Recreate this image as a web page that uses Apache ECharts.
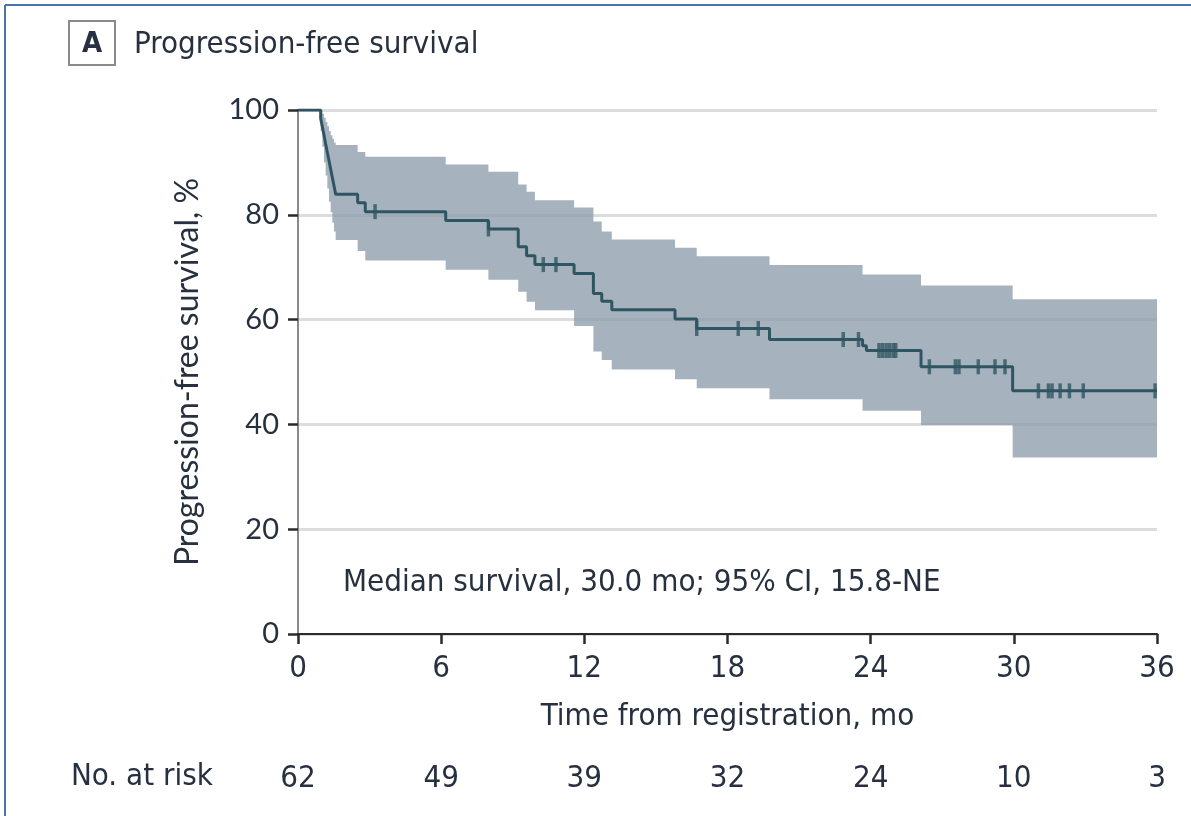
<!DOCTYPE html>
<html>
<head>
<meta charset="utf-8">
<script src="https://cdn.jsdelivr.net/npm/echarts@6/dist/echarts.min.js"></script>
<style>
  html, body { margin: 0; padding: 0; background: #ffffff; }
  #chart { width: 1191px; height: 816px; }
</style>
</head>
<body>
<div id="chart"></div>
<script>
// Kaplan-Meier estimate of progression-free survival (step points, months / %)
const kmTime = [0, 0.95, 1.02, 1.09, 1.16, 1.23, 1.30, 1.37, 1.44, 1.51, 1.58, 2.50, 2.82, 6.19, 7.98, 9.23, 9.58, 9.93, 11.57, 12.38, 12.73, 13.15, 15.80, 16.71, 19.76, 23.66, 23.82, 26.11, 29.95, 36.0];
const kmSurv = [100, 98.4, 96.8, 95.2, 93.5, 91.9, 90.3, 88.7, 87.1, 85.5, 83.9, 82.3, 80.6, 78.9, 77.3, 73.9, 72.2, 70.5, 68.8, 65.0, 63.5, 61.9, 60.1, 58.3, 56.2, 55.0, 54.1, 51.0, 46.4, 46.4];

// 95% confidence band at the same step times
const ciLower = [100, 96.0, 93.0, 90.0, 87.5, 85.0, 82.5, 80.5, 78.5, 76.8, 75.2, 73.1, 71.3, 69.5, 67.6, 65.3, 63.4, 61.8, 58.8, 53.9, 52.3, 50.5, 48.6, 46.9, 44.8, 42.6, 42.6, 39.9, 33.7, 33.7];
const ciUpper = [100, 100, 99.3, 98.5, 97.7, 96.9, 96.0, 95.2, 94.5, 93.8, 93.3, 92.0, 91.1, 89.6, 88.2, 85.8, 84.4, 82.8, 81.4, 78.7, 76.8, 75.3, 73.7, 72.1, 70.4, 68.6, 68.6, 66.5, 63.9, 63.9];

// Censored observations (months)
const censorTimes = [3.23, 7.98, 10.28, 10.81, 16.71, 18.45, 19.29, 22.85, 23.49, 24.35, 24.5, 24.65, 24.8, 24.95, 25.05, 26.46, 27.55, 27.7, 28.51, 29.21, 29.63, 31.03, 31.45, 31.6, 31.94, 32.33, 32.91, 35.92];

// Axis ticks and number at risk
const xTicks = [0, 6, 12, 18, 24, 30, 36];
const yTicks = [0, 20, 40, 60, 80, 100];
const atRisk = [62, 49, 39, 32, 24, 10, 3];

const NARROW = "'Liberation Sans Narrow', 'DejaVu Sans Condensed', 'Roboto Condensed', Roboto, sans-serif";
const WIDE = "Lato, 'Open Sans', sans-serif";
const TEXT = '#27303f';
const LINE = '#2f5562';

function survivalAt(t) {
  let i = 0;
  while (i + 1 < kmTime.length && kmTime[i + 1] <= t) i++;
  return kmSurv[i];
}

const kmData = kmTime.map((t, i) => [t, kmSurv[i]]);
const bandData = kmTime.map((t, i) => [t, ciLower[i], ciUpper[i]]);
const censorData = censorTimes.map(t => [t, survivalAt(t)]);

// Confidence band: one stepped polygon (upper edge forward, lower edge back)
function renderBand(params, api) {
  if (params.dataIndex !== 0) return null;
  const pts = [];
  for (let i = 0; i < kmTime.length; i++) {
    const next = i + 1 < kmTime.length ? kmTime[i + 1] : kmTime[i];
    pts.push(api.coord([kmTime[i], ciUpper[i]]));
    pts.push(api.coord([next, ciUpper[i]]));
  }
  for (let i = kmTime.length - 1; i >= 0; i--) {
    const next = i + 1 < kmTime.length ? kmTime[i + 1] : kmTime[i];
    pts.push(api.coord([next, ciLower[i]]));
    pts.push(api.coord([kmTime[i], ciLower[i]]));
  }
  return {
    type: 'polygon',
    shape: { points: pts },
    style: { fill: 'rgba(138,155,170,0.76)' },
    silent: true
  };
}

const chart = echarts.init(document.getElementById('chart'), null, { renderer: 'canvas' });

chart.setOption({
  animation: false,
  backgroundColor: '#ffffff',
  grid: { left: 298, right: 34, top: 110, bottom: 182, containLabel: false },
  xAxis: [
    {
      type: 'value', min: 0, max: 36, interval: 6,
      name: 'Time from registration, mo', nameLocation: 'middle', nameGap: 67,
      nameTextStyle: { fontFamily: NARROW, fontSize: 31, color: TEXT },
      axisLine: { show: true, onZero: false, lineStyle: { color: '#2b2b2b', width: 2 } },
      axisTick: { show: true, length: 10, lineStyle: { color: '#2b2b2b', width: 2.5 } },
      axisLabel: { fontFamily: NARROW, fontSize: 31, color: TEXT, margin: 19 },
      splitLine: { show: false }
    },
    {
      // number-at-risk row, aligned with the time ticks
      type: 'value', min: 0, max: 36, interval: 6, position: 'bottom', offset: 129,
      axisLine: { show: false }, axisTick: { show: false }, splitLine: { show: false },
      axisLabel: {
        fontFamily: NARROW, fontSize: 31, color: TEXT, margin: 0,
        formatter: v => { const k = xTicks.indexOf(v); return k >= 0 ? String(atRisk[k]) : ''; }
      }
    }
  ],
  yAxis: {
    type: 'value', min: 0, max: 100, interval: 20,
    name: 'Progression-free survival, %', nameLocation: 'middle', nameGap: 94, nameRotate: 90,
    nameTextStyle: { fontFamily: WIDE, fontSize: 32, color: TEXT },
    axisLine: { show: true, lineStyle: { color: '#8a8a8a', width: 2 } },
    axisTick: { show: true, length: 10, lineStyle: { color: '#2b2b2b', width: 2.5 } },
    axisLabel: { fontFamily: WIDE, fontSize: 29, color: TEXT, margin: 19 },
    splitLine: { show: true, lineStyle: { color: '#dcdcdc', width: 3 } }
  },
  series: [
    {
      name: '95% CI', type: 'custom', data: bandData, renderItem: renderBand,
      encode: { x: 0, y: [1, 2] }, z: 2, silent: true
    },
    {
      name: 'Progression-free survival', type: 'line', step: 'end', data: kmData,
      symbol: 'none', lineStyle: { color: LINE, width: 3 }, z: 4
    },
    {
      name: 'Censored', type: 'scatter', data: censorData,
      symbol: 'rect', symbolSize: [3.5, 15], itemStyle: { color: LINE }, z: 5
    }
  ],
  graphic: [
    // outer frame (top and left edges)
    { type: 'line', shape: { x1: 5, y1: 5, x2: 1191, y2: 5 }, style: { stroke: '#4b73ad', lineWidth: 2 } },
    { type: 'line', shape: { x1: 5, y1: 5, x2: 5, y2: 816 }, style: { stroke: '#4b73ad', lineWidth: 2 } },
    // panel letter
    { type: 'rect', shape: { x: 69, y: 21, width: 46, height: 44 }, style: { fill: '#ffffff', stroke: '#8a8a8a', lineWidth: 2 } },
    { type: 'text', x: 92, y: 44, style: { text: 'A', fontFamily: NARROW, fontWeight: 'bold', fontSize: 29, fill: TEXT, align: 'center', verticalAlign: 'middle' } },
    { type: 'text', x: 134, y: 45, style: { text: 'Progression-free survival', fontFamily: NARROW, fontSize: 31, fill: TEXT, verticalAlign: 'middle' } },
    // median annotation
    { type: 'text', x: 343, y: 583, style: { text: 'Median survival, 30.0 mo; 95% CI, 15.8-NE', fontFamily: NARROW, fontSize: 31, fill: TEXT, verticalAlign: 'middle' } },
    // at-risk row label
    { type: 'text', x: 71, y: 777, style: { text: 'No. at risk', fontFamily: NARROW, fontSize: 31, fill: TEXT, verticalAlign: 'middle' } }
  ]
});
</script>
</body>
</html>
